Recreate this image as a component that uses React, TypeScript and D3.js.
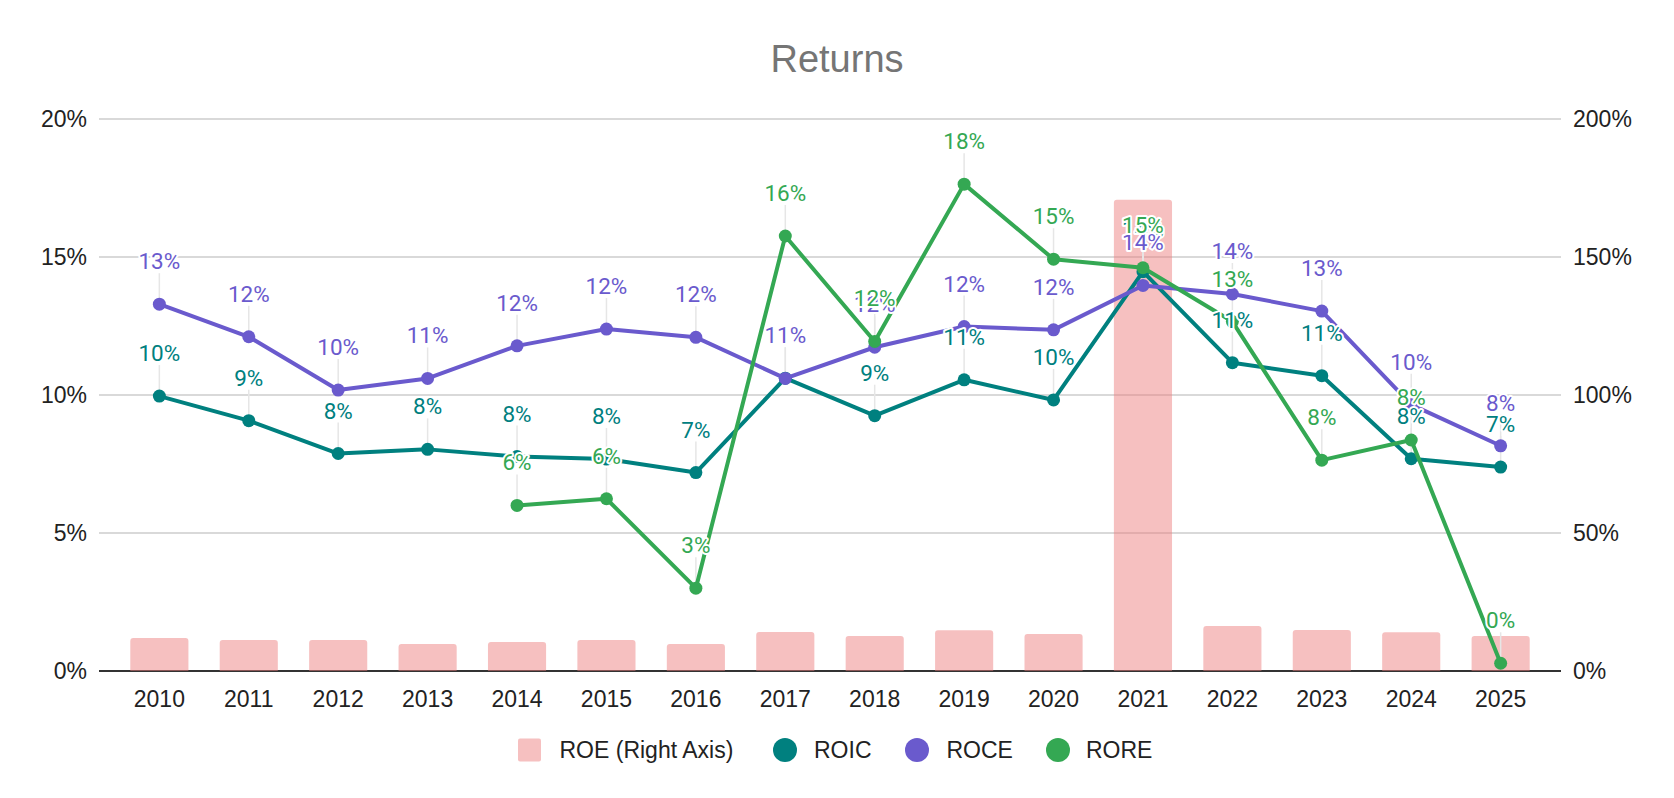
import React from 'react';
import * as d3 from 'd3';

const years = ['2010','2011','2012','2013','2014','2015','2016','2017','2018','2019','2020','2021','2022','2023','2024','2025'];
const roe = [11.96, 11.2, 11.2, 9.8, 10.5, 11.2, 9.8, 14.1, 12.7, 14.8, 13.4, 170.7, 16.3, 14.9, 14.0, 12.7];
const roic = [9.96, 9.07, 7.88, 8.03, 7.77, 7.68, 7.19, 10.61, 9.25, 10.55, 9.82, 14.47, 11.17, 10.7, 7.69, 7.39];
const roce = [13.29, 12.11, 10.18, 10.6, 11.78, 12.39, 12.09, 10.6, 11.73, 12.48, 12.36, 13.97, 13.66, 13.04, 9.65, 8.16];
const rore: (number | null)[] = [null, null, null, null, 6.0, 6.24, 3.0, 15.76, 11.94, 17.64, 14.92, 14.61, 12.66, 7.64, 8.37, 0.28];
const leftTicks = [0, 5, 10, 15, 20];
const rightTicks = [0, 50, 100, 150, 200];

const W = 1674, H = 798;
const plotL = 99, plotR = 1561, plotT = 119, plotB = 671;

const C_ROE = '#ed7b7b';
const C_ROIC = '#00807f';
const C_ROCE = '#6a5acd';
const C_RORE = '#34a853';

const lineSeries = [
  { name: 'ROIC', color: C_ROIC, values: roic as (number | null)[] },
  { name: 'ROCE', color: C_ROCE, values: roce as (number | null)[] },
  { name: 'RORE', color: C_RORE, values: rore },
];

// bar with rounded top corners
function barPath(x: number, y: number, w: number, h: number, r: number) {
  const rr = Math.min(r, h);
  return `M${x},${y + h}V${y + rr}Q${x},${y} ${x + rr},${y}H${x + w - rr}Q${x + w},${y} ${x + w},${y + rr}V${y + h}Z`;
}

export default function App() {
  const x = d3.scaleBand<string>().domain(years).range([plotL, plotR]).padding(0.35);
  const yL = d3.scaleLinear().domain([0, 20]).range([plotB, plotT]);
  const yR = d3.scaleLinear().domain([0, 200]).range([plotB, plotT]);
  const cx = (d: string) => (x(d) as number) + x.bandwidth() / 2;

  const line = d3.line<number | null>()
    .defined((v) => v !== null)
    .x((_, i) => cx(years[i]))
    .y((v) => yL(v as number));

  const axisFont = '"Liberation Sans", Arial, sans-serif';
  const labelFont = 'Roboto, sans-serif';

  return (
    <svg width={W} height={H} style={{ position: 'absolute', left: 0, top: 0, background: '#fff' }}>
      <text x={837} y={72} textAnchor="middle" fontFamily={axisFont} fontSize={38} fill="#757575">Returns</text>

      {/* gridlines */}
      {leftTicks.map((t) => (
        <line key={t} x1={plotL} x2={plotR} y1={yL(t)} y2={yL(t)}
          stroke={t === 0 ? '#333' : '#cccccc'} strokeWidth={t === 0 ? 2 : 1.4} />
      ))}
      {leftTicks.map((t) => (
        <text key={'l' + t} x={87} y={yL(t) + 8} textAnchor="end" fontFamily={axisFont} fontSize={23} fill="#222">{t}%</text>
      ))}
      {rightTicks.map((t) => (
        <text key={'r' + t} x={1573} y={yR(t) + 8} textAnchor="start" fontFamily={axisFont} fontSize={23} fill="#222">{t}%</text>
      ))}
      {years.map((yr) => (
        <text key={'x' + yr} x={cx(yr)} y={707} textAnchor="middle" fontFamily={axisFont} fontSize={23} fill="#222">{yr}</text>
      ))}

      {/* ROE bars on right axis */}
      {roe.map((v, i) => (
        <path key={'b' + i} d={barPath(x(years[i]) as number, yR(v), x.bandwidth(), plotB - yR(v), 3)}
          fill={C_ROE} fillOpacity={0.48} />
      ))}

      {/* stems */}
      {lineSeries.map((s) => s.values.map((v, i) => v === null ? null : (
        <line key={s.name + 's' + i} x1={cx(years[i])} x2={cx(years[i])} y1={yL(v) - 31} y2={yL(v) - 6}
          stroke="#e6e6e6" strokeWidth={1.5} />
      )))}

      {/* lines and points */}
      {lineSeries.map((s) => (
        <g key={s.name}>
          <path d={line(s.values) as string} fill="none" stroke={s.color} strokeWidth={4} strokeLinejoin="round" />
          {s.values.map((v, i) => v === null ? null : (
            <circle key={i} cx={cx(years[i])} cy={yL(v)} r={6.5} fill={s.color} />
          ))}
        </g>
      ))}

      {/* data labels */}
      {lineSeries.map((s) => s.values.map((v, i) => v === null ? null : (
        <text key={s.name + 't' + i} x={cx(years[i])} y={yL(v) - 35} textAnchor="middle"
          fontFamily={labelFont} fontSize={22.5} fill={s.color}
          stroke="#fff" strokeWidth={4} strokeLinejoin="round" style={{ paintOrder: 'stroke' }}>
          {Math.round(v)}%
        </text>
      )))}

      {/* legend */}
      <g fontFamily={axisFont} fontSize={23} fill="#222">
        <rect x={518} y={738.5} width={23} height={23} rx={2} fill={C_ROE} fillOpacity={0.48} />
        <text x={559.5} y={758}>ROE (Right Axis)</text>
        <circle cx={785} cy={750} r={12} fill={C_ROIC} />
        <text x={814} y={758}>ROIC</text>
        <circle cx={917} cy={750} r={12} fill={C_ROCE} />
        <text x={946.5} y={758}>ROCE</text>
        <circle cx={1058} cy={750} r={12} fill={C_RORE} />
        <text x={1086} y={758}>RORE</text>
      </g>
    </svg>
  );
}
